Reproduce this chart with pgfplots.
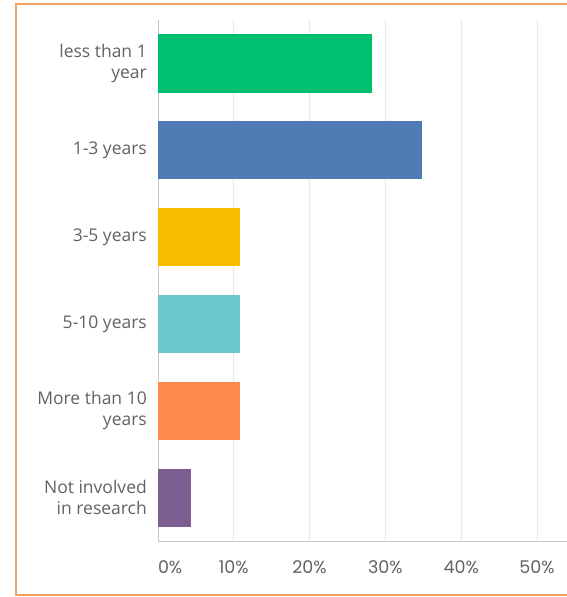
\documentclass[border=0pt]{standalone}
\usepackage{pgfplots}
\pgfplotsset{compat=1.18}
\usepackage{fontspec}
\setmainfont{Open Sans}
\newfontfamily\tickfont{Poppins}
\definecolor{txt}{RGB}{98,98,98}
\definecolor{bordc}{RGB}{238,162,100}
\definecolor{cgreen}{RGB}{0,191,111}
\definecolor{cblue}{RGB}{80,124,182}
\definecolor{cyellow}{RGB}{249,190,0}
\definecolor{cteal}{RGB}{107,200,205}
\definecolor{corange}{RGB}{255,139,79}
\definecolor{cpurple}{RGB}{125,94,144}
\begin{document}
\begin{tikzpicture}
\path[use as bounding box] (0,0) rectangle (567bp,597bp);
\draw[line width=2bp, draw=bordc] (16bp,2bp) rectangle (620bp,593bp);
\begin{axis}[
  at={(158bp,56bp)}, anchor=south west,
  width=409bp, height=521bp, scale only axis,
  xbar, bar width=0.67, bar shift=0pt,
  xmin=0, xmax=53.96, ymin=-0.5, ymax=5.5, y dir=reverse,
  axis x line*=bottom, axis y line*=left,
  axis line style={draw=black!22, line width=1bp},
  xmajorgrids, grid style={draw=black!9, line width=0.8bp},
  major tick length=0,
  ytick={0,1,2,3,4,5},
  yticklabels={less than 1\\year, 1-3 years, 3-5 years, 5-10 years, More than 10\\years, Not involved\\in research},
  yticklabel style={font=\fontsize{17.5bp}{21bp}\selectfont, text=txt, align=right, anchor=east, inner sep=0pt, xshift=-11bp},
  xtick={0,10,20,30,40,50},
  xticklabels={{\makebox[0pt][l]{0\%}},10\%,20\%,30\%,40\%,50\%},
  xticklabel style={font=\tickfont\fontsize{17.5bp}{20bp}\selectfont, text=txt, anchor=base, inner sep=0pt, yshift=-32bp},
]
\addplot[fill=cgreen, draw=none] coordinates {(28.26,0)};
\addplot[fill=cblue, draw=none] coordinates {(34.78,1)};
\addplot[fill=cyellow, draw=none] coordinates {(10.87,2)};
\addplot[fill=cteal, draw=none] coordinates {(10.87,3)};
\addplot[fill=corange, draw=none] coordinates {(10.87,4)};
\addplot[fill=cpurple, draw=none] coordinates {(4.35,5)};
\end{axis}
\end{tikzpicture}
\end{document}
